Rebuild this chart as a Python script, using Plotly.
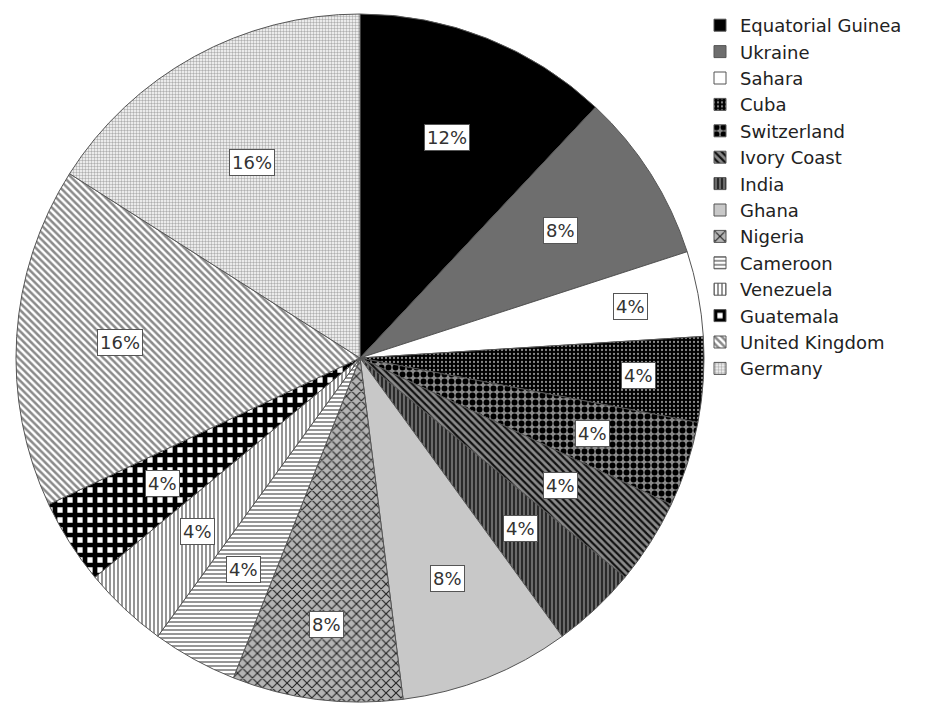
import math
import plotly.graph_objects as go

# Share of each country (percent), in slice order, clockwise from 12 o'clock
countries = [
    "Equatorial Guinea", "Ukraine", "Sahara", "Cuba", "Switzerland",
    "Ivory Coast", "India", "Ghana", "Nigeria", "Cameroon",
    "Venezuela", "Guatemala", "United Kingdom", "Germany",
]
shares = [12, 8, 4, 4, 4, 4, 4, 8, 8, 4, 4, 4, 16, 16]

# Monochrome fill style per slice: (shape, foreground, background, size, solidity)
styles = [
    ("", "#000000", "#000000", 8, 0.3),
    ("", "#6e6e6e", "#6e6e6e", 8, 0.3),
    ("", "#ffffff", "#ffffff", 8, 0.3),
    (".", "#8a8a8a", "#000000", 4, 0.25),
    (".", "#000000", "#8a8a8a", 7, 0.55),
    ("\\", "#111111", "#8a8a8a", 5, 0.45),
    ("|", "#222222", "#6a6a6a", 4, 0.45),
    ("", "#c8c8c8", "#c8c8c8", 8, 0.3),
    ("x", "#222222", "#b4b4b4", 7, 0.3),
    ("-", "#8a8a8a", "#ffffff", 4, 0.45),
    ("|", "#8a8a8a", "#ffffff", 4, 0.45),
    ("+", "#000000", "#ffffff", 10, 0.72),
    ("\\", "#8a8a8a", "#ffffff", 5, 0.5),
    (".", "#b0b0b0", "#ffffff", 3, 0.5),
]

# Radial placement of each percentage label, as a fraction of the pie radius
label_r = [0.69, 0.69, 0.80, 0.81, 0.71, 0.69, 0.68,
           0.69, 0.78, 0.70, 0.69, 0.68, 0.70, 0.65]

W, H = 928, 704
# Pie placement in pixels
CX, CY, R = 360, 358, 344

fig = go.Figure(
    go.Pie(
        labels=countries,
        values=shares,
        sort=False,
        direction="clockwise",
        rotation=0,
        textinfo="none",
        hoverinfo="label+percent",
        marker=dict(
            colors=[s[2] for s in styles],
            line=dict(color="#555555", width=1),
            pattern=dict(
                shape=[s[0] for s in styles],
                fgcolor=[s[1] for s in styles],
                bgcolor=[s[2] for s in styles],
                size=[s[3] for s in styles],
                solidity=[s[4] for s in styles],
                fillmode="replace",
            ),
        ),
        domain=dict(
            x=[(CX - R) / W, (CX + R) / W],
            y=[1 - (CY + R) / H, 1 - (CY - R) / H],
        ),
    )
)

# Boxed percentage labels placed along each slice's mid-angle
total = sum(shares)
annotations = []
cum = 0
for name, v, fr in zip(countries, shares, label_r):
    mid = (cum + v / 2) / total * 2 * math.pi
    cum += v
    r = fr * R
    px = CX + r * math.sin(mid)
    py = CY - r * math.cos(mid)
    annotations.append(dict(
        x=px / W, y=1 - py / H, xref="paper", yref="paper",
        text=f"{round(v / total * 100)}%", showarrow=False,
        font=dict(family="DejaVu Sans", size=18, color="#333333"),
        bgcolor="#ffffff", bordercolor="#555555", borderwidth=1, borderpad=2,
        xanchor="center", yanchor="middle",
    ))

fig.update_layout(
    width=W, height=H,
    margin=dict(l=0, r=0, t=0, b=0),
    paper_bgcolor="#ffffff",
    plot_bgcolor="#ffffff",
    annotations=annotations,
    showlegend=True,
    legend=dict(
        x=700 / W, y=1 - 7 / H, xanchor="left", yanchor="top",
        font=dict(family="DejaVu Sans", size=18, color="#222222"),
        bgcolor="rgba(0,0,0,0)", borderwidth=0,
        tracegroupgap=0, itemwidth=30,
    ),
)

fig.write_html("out.html")
